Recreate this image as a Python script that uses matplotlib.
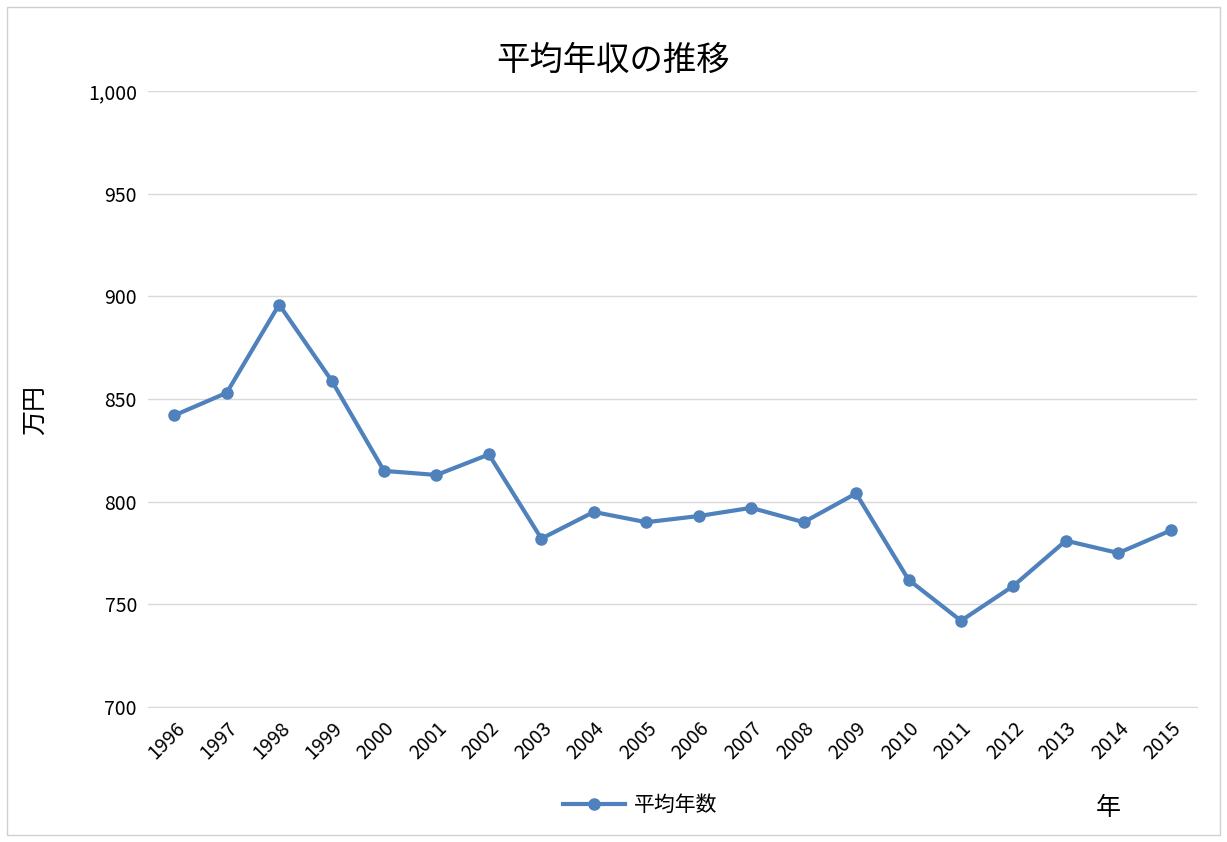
import matplotlib.pyplot as plt
from matplotlib.patches import Rectangle

plt.rcParams['font.family'] = ['Noto Sans CJK JP', 'DejaVu Sans']

years = [str(y) for y in range(1996, 2016)]
income = [842, 853, 896, 859, 815, 813, 823, 782, 795, 790,
          793, 797, 790, 804, 762, 742, 759, 781, 775, 786]
yticks = [700, 750, 800, 850, 900, 950, 1000]

fig = plt.figure(figsize=(12.27, 8.42), dpi=100)
ax = fig.add_axes([148/1227, 1-707/842, (1197-148)/1227, (707-91)/842])
fig.patches.append(Rectangle((0.006, 0.008), 0.988, 0.984, transform=fig.transFigure,
                             fill=False, edgecolor='#d0d0d0', linewidth=1))

x = list(range(len(years)))
line, = ax.plot(x, income, color='#4f81bd', linewidth=3, marker='o', markersize=8,
                label='平均年数')
ax.set_xlim(-0.5, len(years) - 0.5)
ax.set_ylim(700, 1000)
ax.set_yticks(yticks)
ax.set_yticklabels([f'{v:,}' for v in yticks], fontsize=14)
ax.set_xticks(x)
ax.set_xticklabels(years, rotation=45, ha='right', rotation_mode='anchor', fontsize=14)
ax.tick_params(length=0, pad=8)
ax.grid(axis='y', color='#d9d9d9', linewidth=1)
ax.set_axisbelow(True)
for s in ['top', 'right', 'left']:
    ax.spines[s].set_visible(False)
ax.spines['bottom'].set_color('#d9d9d9')

fig.text(0.5, 1-60/842, '平均年収の推移', ha='center', va='center', fontsize=24)
fig.text(35/1227, 1-410/842, '万円', rotation=90, ha='center', va='center', fontsize=18)
fig.text(1108/1227, 1-808/842, '年', ha='center', va='center', fontsize=18)
fig.legend(handles=[line], loc='center', bbox_to_anchor=(640/1227, 1-805/842),
           frameon=False, fontsize=15, handlelength=3, handletextpad=0.4)

fig.savefig('out.png', dpi=100)
